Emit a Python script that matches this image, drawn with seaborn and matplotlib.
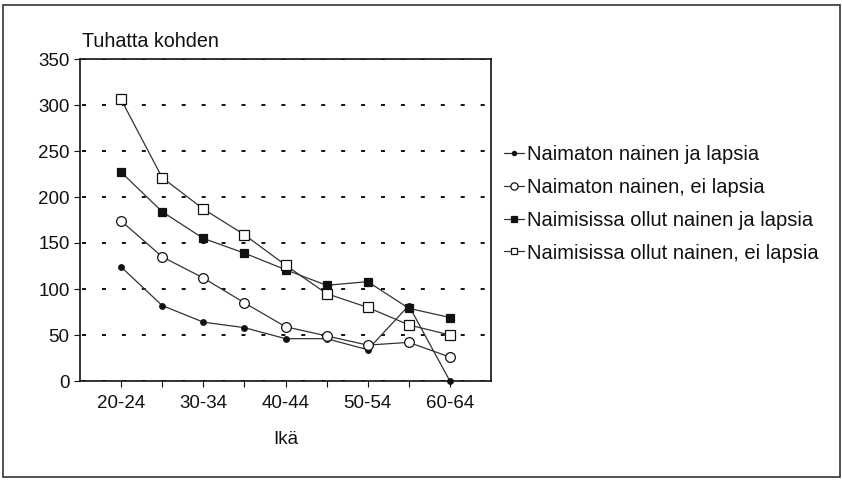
import matplotlib
matplotlib.use("Agg")
import matplotlib.pyplot as plt
import seaborn as sns
import pandas as pd
from matplotlib.patches import Rectangle

ages = ["20-24", "25-29", "30-34", "35-39", "40-44", "45-49", "50-54", "55-59", "60-64"]
naimaton_lapsia = [124, 82, 64, 58, 46, 46, 34, 82, 0]
naimaton_ei = [174, 135, 112, 85, 59, 49, 39, 42, 26]
naimisissa_lapsia = [227, 184, 155, 139, 121, 104, 108, 79, 69]
naimisissa_ei = [306, 221, 187, 159, 126, 95, 80, 61, 50]

labels = ["Naimaton nainen ja lapsia", "Naimaton nainen, ei lapsia",
          "Naimisissa ollut nainen ja lapsia", "Naimisissa ollut nainen, ei lapsia"]
series = [naimaton_lapsia, naimaton_ei, naimisissa_lapsia, naimisissa_ei]

sns.set_style("white")
plt.rcParams['font.family'] = ['Liberation Sans', 'DejaVu Sans']
fs = 13.5

ink = "#111111"
styles = [dict(marker="o", markersize=4, markerfacecolor=ink),
          dict(marker="o", markersize=7, markerfacecolor="white"),
          dict(marker="s", markersize=6, markerfacecolor=ink),
          dict(marker="s", markersize=6.5, markerfacecolor="white")]

fig = plt.figure(figsize=(8.42, 4.80), dpi=100)
ax = fig.add_axes([80 / 842, 1 - 381 / 480, 411 / 842, 322 / 480])

for lab, vals, st in zip(labels, series, styles):
    df = pd.DataFrame({"Ikä": ages, "val": vals})
    sns.lineplot(data=df, x="Ikä", y="val", ax=ax, color="#333333", lw=0.9,
                 markeredgecolor=ink, markeredgewidth=0.9, label=lab, sort=False,
                 clip_on=False, zorder=3, **st)

ax.set_xlim(-1, len(ages))
ax.set_ylim(0, 350)
ax.set_yticks(range(0, 351, 50))
ax.set_xticks(range(len(ages)))
ax.set_xticklabels([a if i % 2 == 0 else "" for i, a in enumerate(ages)])
ax.yaxis.grid(True, color=ink, lw=1.4, linestyle=(9.2, (2.05, 8.2)))
ax.xaxis.grid(False)
for s in ax.spines.values():
    s.set_color(ink)
    s.set_linewidth(1.2)
ax.tick_params(axis="both", direction="out", length=4, width=0.8, color=ink,
               labelcolor=ink, labelsize=fs, left=True, bottom=True)
ax.tick_params(axis="x", pad=6)
ax.set_xlabel("Ikä", color=ink, fontsize=fs, labelpad=14)
ax.set_ylabel("")
ax.text(0.005, 1.025, "Tuhatta kohden", transform=ax.transAxes, fontsize=14.2,
        color=ink, va="bottom", ha="left")

ax.legend(loc="center left", bbox_to_anchor=(504 / 842, 1 - 204 / 480),
          bbox_transform=fig.transFigure, frameon=False, fontsize=14.5,
          handlelength=1.0, handletextpad=0.15, labelspacing=0.68, labelcolor=ink,
          borderaxespad=0, borderpad=0, markerscale=0.75)

fig.add_artist(Rectangle((3 / 842, 3 / 480), 837 / 842, 472 / 480, transform=fig.transFigure,
                         fill=False, edgecolor="#333333", lw=1.2))

fig.savefig("out.png", dpi=100)
